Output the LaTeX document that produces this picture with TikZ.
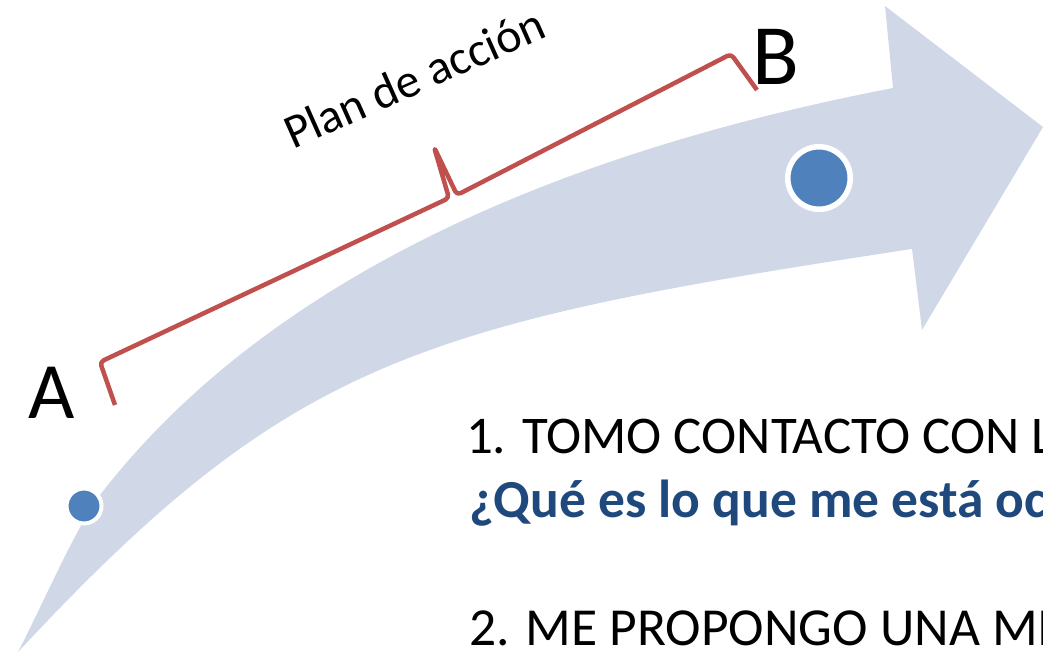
\documentclass[tikz,border=0pt]{standalone}
\usepackage{fontspec}
\setmainfont{Carlito}
\usetikzlibrary{positioning}
\definecolor{flecha}{RGB}{208,216,232}
\definecolor{punto}{RGB}{79,129,189}
\definecolor{llave}{RGB}{192,80,77}
\definecolor{azul}{RGB}{31,73,125}

\begin{document}
\begin{tikzpicture}[x=1pt, y=-1pt,
every node/.style={inner sep=0pt, outer sep=0pt},
letra/.style={font=\fontsize{80}{96}\selectfont, anchor=base west},
paso/.style={font=\fontsize{53.5}{64}\selectfont, anchor=base west}]
\tikzstyle{hito} = [circle, fill=punto, draw=white]
\tikzstyle{br} = [draw=llave, line width=4.5pt, rounded corners=4pt, line join=round]
\useasboundingbox (0,0) rectangle (1043,654);
\clip (0,0) rectangle (1043,654);

% la flecha grande
\fill[flecha] (18,652) .. controls (41,608) and (76,527) .. (100,495)
  .. controls (222,337) and (452,173) .. (893,88)
  -- (885,6) -- (1043,127) -- (922,330) -- (912,249)
  .. controls (417,324) and (290,360) .. (18,652) -- cycle;

\node[hito, minimum size=35pt, line width=4pt] (puntoA) at (84,506) {};
\node[hito, minimum size=62.5pt, line width=5.5pt] (puntoB) at (819,178) {};

\node[letra] (A) at (28,418) {A};
\node[letra, font=\fontsize{86}{100}\selectfont] (B) at (752,84) {B};

% llave entre A y B
\coordinate (finA) at (115,405);
\coordinate (esqA) at (100,362);
\coordinate (picoI) at (449,198);
\coordinate (pico) at (434,147);
\coordinate (picoD) at (457,195);
\coordinate (esqB) at (731,54);
\coordinate (finB) at (757,90);
\draw[br] (finA) -- (esqA) -- (picoI) -- (pico) -- (picoD) -- (esqB) -- (finB);
\node[font=\fontsize{48}{58}\selectfont, rotate=24, anchor=base] (plan) at (421,93) {Plan de acción};

\node[paso, font=\fontsize{53}{64}\selectfont] (paso1) at (466,453) {1. TOMO CONTACTO CON L};
\node[paso, font=\fontsize{53.5}{64}\selectfont\bfseries, text=azul] (pregunta) at (469,517) {¿Qué es lo que me está oc};
\node[paso] (paso2) at (469,645) {2. ME PROPONGO UNA MI};
\end{tikzpicture}
\end{document}
